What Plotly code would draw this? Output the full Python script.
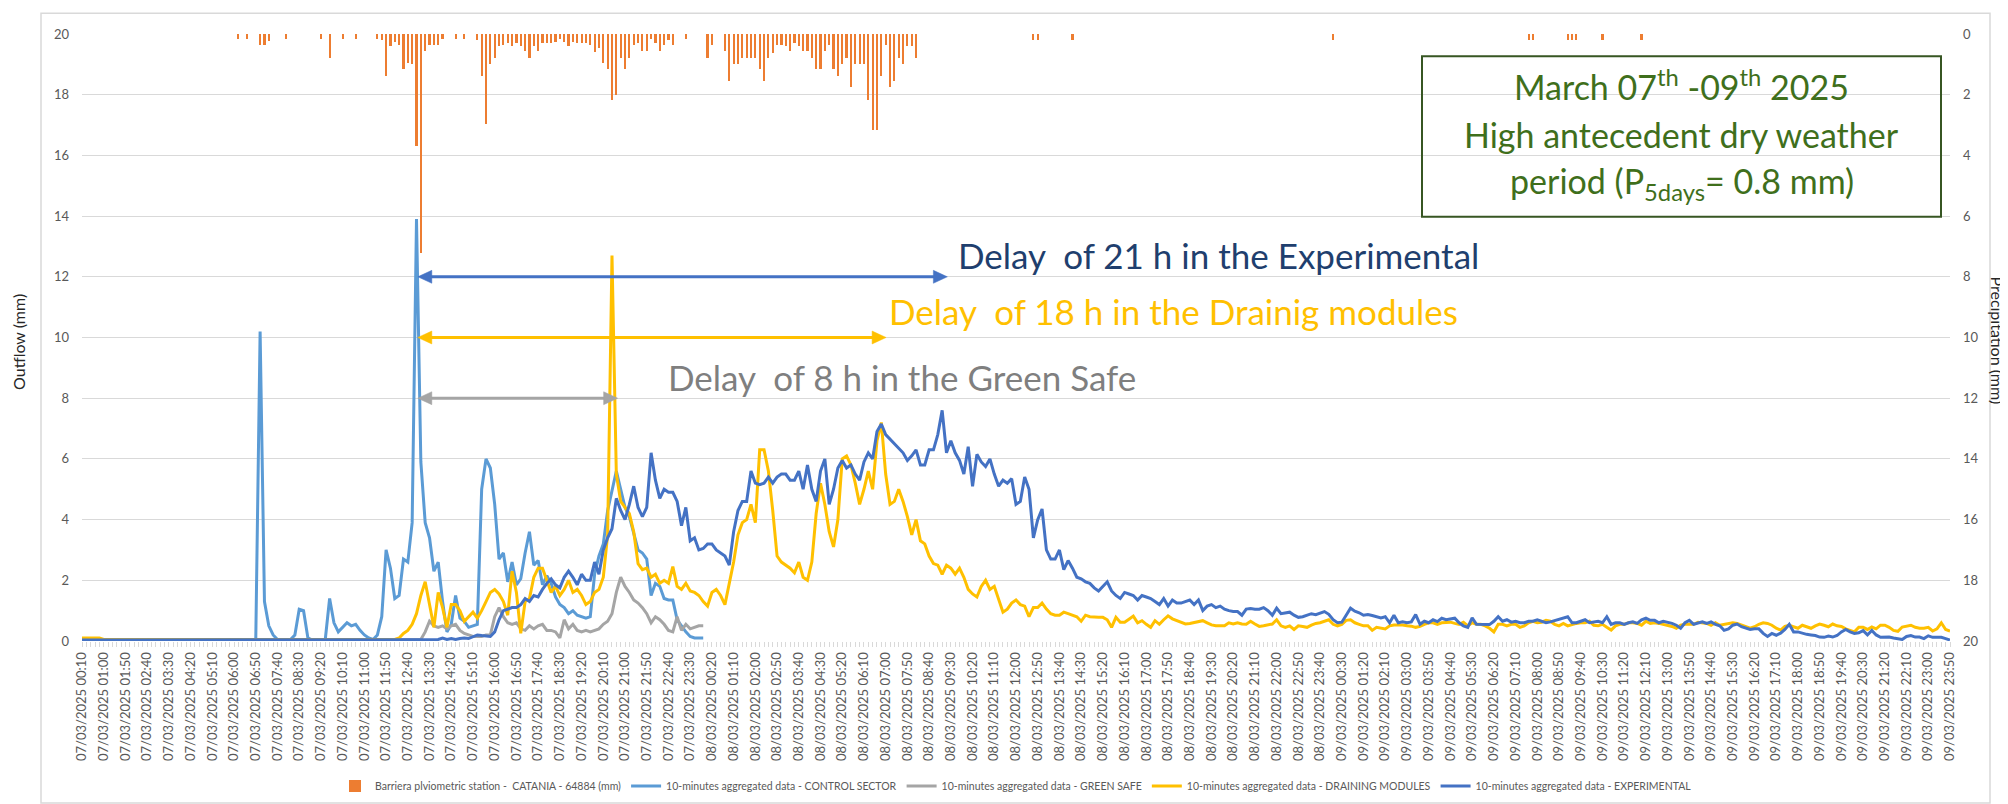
import plotly.graph_objects as go
import pandas as pd

# ---------------- categories (10-minute steps) ----------------
times = list(pd.date_range("2025-03-07 00:10", "2025-03-09 23:50", freq="10min").strftime("%d/%m/%Y %H:%M"))

# ---------------- precipitation (mm per 10 min) ----------------
rain_mm = [
    0, 0, 0, 0, 0, 0, 0, 0, 0, 0, 0, 0, 0, 0, 0, 0, 0, 0, 0, 0,
    0, 0, 0, 0, 0, 0, 0, 0, 0, 0, 0, 0, 0, 0, 0, 0, 0.18, 0, 0.18, 0,
    0, 0.37, 0.37, 0.24, 0, 0, 0, 0.18, 0, 0, 0, 0, 0, 0, 0, 0.18, 0, 0.78, 0, 0,
    0.18, 0, 0, 0.18, 0, 0, 0, 0, 0.15, 0.2, 1.37, 0.4, 0.25, 0.35, 1.15, 0.97, 1.0, 3.7, 7.2, 0.55,
    0.35, 0.35, 0.35, 0.15, 0, 0, 0.15, 0, 0.15, 0, 0, 0.2, 1.4, 2.95, 1.0, 0.78, 0.4, 0.35, 0.3, 0.4,
    0.3, 0.4, 0.55, 0.78, 0.4, 0.55, 0.3, 0.3, 0.3, 0.25, 0.18, 0.25, 0.4, 0.25, 0.3, 0.3, 0.3, 0.35, 0.6, 0.45,
    0.97, 1.15, 2.18, 2.0, 0.78, 1.15, 0.78, 0.35, 0.3, 0.55, 0.55, 0.18, 0.3, 0.55, 0.35, 0.2, 0.35, 0, 0, 0.18,
    0, 0, 0, 0, 0.78, 0.35, 0, 0, 0.55, 1.55, 1.0, 1.0, 0.78, 0.78, 0.78, 0.78, 1.15, 1.55, 0.78, 0.62,
    0.35, 0.35, 0.4, 0.55, 0.3, 0.4, 0.55, 0.55, 0.78, 1.15, 1.15, 0.55, 0.35, 1.15, 1.37, 1.0, 0.78, 1.75, 1.0, 1.0,
    1.0, 2.18, 3.15, 3.15, 1.37, 0.35, 1.75, 1.55, 0.78, 1.0, 0.4, 0.4, 0.78, 0, 0, 0, 0, 0, 0, 0,
    0, 0, 0, 0, 0, 0, 0, 0, 0, 0, 0, 0, 0, 0, 0, 0, 0, 0, 0, 0.2,
    0.2, 0, 0, 0, 0, 0, 0, 0, 0.2, 0, 0, 0, 0, 0, 0, 0, 0, 0, 0, 0,
    0, 0, 0, 0, 0, 0, 0, 0, 0, 0, 0, 0, 0, 0, 0, 0, 0, 0, 0, 0,
    0, 0, 0, 0, 0, 0, 0, 0, 0, 0, 0, 0, 0, 0, 0, 0, 0, 0, 0, 0,
    0, 0, 0, 0, 0, 0, 0, 0, 0.2, 0, 0, 0, 0, 0, 0, 0, 0, 0, 0, 0,
    0, 0, 0, 0, 0, 0, 0, 0, 0, 0, 0, 0, 0, 0, 0, 0, 0, 0, 0, 0,
    0, 0, 0, 0, 0, 0, 0, 0, 0, 0, 0, 0, 0, 0.2, 0.2, 0, 0, 0, 0, 0,
    0, 0, 0.2, 0.2, 0.2, 0, 0, 0, 0, 0, 0.2, 0, 0, 0, 0, 0, 0, 0, 0, 0.2,
    0, 0, 0, 0, 0, 0, 0, 0, 0, 0, 0, 0, 0, 0, 0, 0, 0, 0, 0, 0,
    0, 0, 0, 0, 0, 0, 0, 0, 0, 0, 0, 0, 0, 0, 0, 0, 0, 0, 0, 0,
    0, 0, 0, 0, 0, 0, 0, 0, 0, 0, 0, 0, 0, 0, 0, 0, 0, 0, 0, 0,
    0, 0, 0, 0, 0, 0, 0, 0, 0, 0, 0,
]

# ---------------- outflow (mm) ----------------
control_sector = [
    0.05, 0.05, 0.05, 0.05, 0.05, 0.05, 0.05, 0.05, 0.05, 0.05, 0.05, 0.05, 0.05, 0.05, 0.05, 0.05, 0.05, 0.05, 0.05, 0.05,
    0.05, 0.05, 0.05, 0.05, 0.05, 0.05, 0.05, 0.05, 0.05, 0.05, 0.05, 0.05, 0.05, 0.05, 0.05, 0.05, 0.05, 0.05, 0.05, 0.05,
    0.05, 10.2, 1.3, 0.5, 0.2, 0.05, 0.03, 0.03, 0.05, 0.2, 1.05, 1.0, 0.1, 0.03, 0.03, 0.03, 0.05, 1.4, 0.6, 0.3,
    0.45, 0.6, 0.5, 0.55, 0.35, 0.2, 0.1, 0.05, 0.2, 0.8, 3.0, 2.4, 1.4, 1.5, 2.7, 2.6, 3.9, 13.9, 5.9, 3.9,
    3.4, 2.3, 2.6, 1.3, 0.3, 0.55, 1.5, 0.75, 0.65, 0.45, 0.5, 0.55, 5.0, 6.0, 5.7, 4.5, 2.7, 2.9, 1.95, 2.6,
    1.85, 2.05, 2.9, 3.6, 2.5, 2.65, 1.85, 2.15, 1.9, 1.45, 1.2, 1.1, 0.9, 1.0, 0.85, 0.8, 0.75, 0.8, 2.2, 2.8,
    3.2, 4.3, 5.0, 5.6, 5.0, 4.4, 4.1, 3.5, 3.0, 2.9, 2.7, 1.5, 1.9, 1.8, 1.4, 1.35, 1.35, 0.7, 0.5, 0.3,
    0.15, 0.1, 0.1, 0.1,
]

green_safe = [
    0.05, 0.05, 0.05, 0.05, 0.05, 0.05, 0.05, 0.05, 0.05, 0.05, 0.05, 0.05, 0.05, 0.05, 0.05, 0.05, 0.05, 0.05, 0.05, 0.05,
    0.05, 0.05, 0.05, 0.05, 0.05, 0.05, 0.05, 0.05, 0.05, 0.05, 0.05, 0.05, 0.05, 0.05, 0.05, 0.05, 0.05, 0.05, 0.05, 0.05,
    0.05, 0.05, 0.05, 0.05, 0.05, 0.05, 0.05, 0.05, 0.05, 0.05, 0.05, 0.05, 0.05, 0.05, 0.05, 0.05, 0.05, 0.05, 0.05, 0.05,
    0.05, 0.05, 0.05, 0.05, 0.05, 0.05, 0.05, 0.05, 0.05, 0.05, 0.05, 0.05, 0.05, 0.05, 0.05, 0.05, 0.05, 0.05, 0.05, 0.3,
    0.65, 0.5, 0.45, 0.5, 0.4, 0.5, 0.55, 0.35, 0.25, 0.2, 0.15, 0.15, 0.15, 0.2, 0.2, 0.8, 1.1, 0.8, 0.6, 0.55,
    0.6, 0.4, 0.35, 0.5, 0.4, 0.5, 0.55, 0.35, 0.35, 0.3, 0.1, 0.7, 0.4, 0.55, 0.35, 0.3, 0.35, 0.3, 0.35, 0.4,
    0.55, 0.65, 0.9, 1.6, 2.1, 1.8, 1.6, 1.35, 1.25, 1.1, 0.9, 0.6, 0.8, 0.7, 0.55, 0.35, 0.3, 0.8, 0.35, 0.55,
    0.4, 0.45, 0.5, 0.5,
]

draining_modules = [
    0.1, 0.1, 0.1, 0.1, 0.1, 0.05, 0.05, 0.05, 0.05, 0.05, 0.05, 0.05, 0.05, 0.05, 0.05, 0.05, 0.05, 0.05, 0.05, 0.05,
    0.05, 0.05, 0.05, 0.05, 0.05, 0.05, 0.05, 0.05, 0.05, 0.05, 0.05, 0.05, 0.05, 0.05, 0.05, 0.05, 0.05, 0.05, 0.05, 0.05,
    0.05, 0.05, 0.05, 0.05, 0.05, 0.05, 0.05, 0.05, 0.05, 0.05, 0.05, 0.05, 0.05, 0.05, 0.05, 0.05, 0.05, 0.05, 0.05, 0.05,
    0.05, 0.05, 0.05, 0.05, 0.05, 0.05, 0.05, 0.05, 0.05, 0.05, 0.05, 0.05, 0.05, 0.1, 0.25, 0.35, 0.55, 0.9, 1.5, 1.95,
    1.2, 0.45, 1.6, 1.1, 0.45, 1.2, 1.2, 1.0, 0.65, 0.8, 0.95, 0.75, 1.0, 1.3, 1.6, 1.7, 1.55, 1.3, 0.85, 2.3,
    1.6, 0.25, 1.3, 1.4, 2.1, 2.4, 2.4, 2.0, 1.6, 1.8, 1.5, 1.7, 2.0, 1.6, 1.7, 1.5, 1.2, 1.3, 1.6, 1.7,
    2.1, 3.5, 12.7, 5.5, 4.6, 4.4, 4.2, 3.6, 2.55, 2.35, 2.4, 2.1, 2.2, 1.9, 2.0, 1.9, 2.45, 1.8, 1.7, 1.9,
    1.65, 1.6, 1.5, 1.3, 1.15, 1.6, 1.7, 1.5, 1.2, 1.9, 2.6, 3.5, 3.9, 4.0, 4.5, 3.9, 6.3, 6.3, 5.6, 4.3,
    2.8, 2.6, 2.5, 2.4, 2.25, 2.6, 2.1, 2.0, 2.6, 4.2, 5.2, 4.5, 3.6, 3.1, 4.0, 6.0, 6.1, 5.8, 5.2, 4.5,
    5.0, 5.6, 5.0, 6.6, 7.2, 5.5, 4.5, 4.6, 5.0, 4.6, 4.1, 3.5, 4.0, 3.3, 3.2, 2.8, 2.55, 2.5, 2.2, 2.5,
    2.4, 2.2, 2.4, 2.1, 1.7, 1.55, 1.45, 1.8, 2.0, 1.7, 1.8, 1.4, 0.95, 1.05, 1.25, 1.35, 1.2, 1.15, 0.8, 1.1,
    1.1, 1.25, 1.05, 0.9, 0.85, 0.85, 0.95, 0.9, 0.85, 0.8, 0.65, 0.85, 0.8, 0.78, 0.78, 0.78, 0.7, 0.45, 0.78, 0.62,
    0.62, 0.72, 0.82, 0.6, 0.67, 0.55, 0.45, 0.67, 0.55, 0.7, 0.83, 0.73, 0.67, 0.6, 0.56, 0.58, 0.61, 0.66, 0.67, 0.6,
    0.53, 0.5, 0.49, 0.5, 0.6, 0.56, 0.6, 0.56, 0.55, 0.65, 0.56, 0.48, 0.5, 0.53, 0.56, 0.7, 0.5, 0.45, 0.5, 0.38,
    0.5, 0.48, 0.45, 0.52, 0.58, 0.6, 0.66, 0.7, 0.55, 0.5, 0.55, 0.68, 0.7, 0.6, 0.55, 0.5, 0.5, 0.35, 0.45, 0.42,
    0.4, 0.5, 0.53, 0.53, 0.53, 0.5, 0.49, 0.45, 0.48, 0.55, 0.6, 0.6, 0.55, 0.6, 0.62, 0.62, 0.58, 0.55, 0.62, 0.5,
    0.6, 0.55, 0.55, 0.5, 0.42, 0.3, 0.55, 0.55, 0.5, 0.55, 0.55, 0.45, 0.5, 0.6, 0.65, 0.6, 0.62, 0.68, 0.65, 0.55,
    0.5, 0.58, 0.5, 0.55, 0.58, 0.6, 0.6, 0.65, 0.52, 0.5, 0.55, 0.45, 0.36, 0.5, 0.55, 0.55, 0.6, 0.6, 0.58, 0.52,
    0.65, 0.58, 0.6, 0.58, 0.55, 0.52, 0.48, 0.42, 0.52, 0.55, 0.56, 0.55, 0.62, 0.6, 0.58, 0.52, 0.6, 0.52, 0.55, 0.57,
    0.6, 0.58, 0.52, 0.46, 0.42, 0.47, 0.55, 0.6, 0.58, 0.52, 0.42, 0.36, 0.48, 0.52, 0.46, 0.42, 0.52, 0.46, 0.42, 0.5,
    0.56, 0.52, 0.47, 0.56, 0.5, 0.48, 0.4, 0.35, 0.3, 0.45, 0.45, 0.38, 0.46, 0.4, 0.52, 0.52, 0.45, 0.35, 0.32, 0.46,
    0.48, 0.52, 0.45, 0.42, 0.42, 0.45, 0.33, 0.4, 0.6, 0.38, 0.33,
]

experimental = [
    0.03, 0.03, 0.03, 0.03, 0.03, 0.03, 0.03, 0.03, 0.03, 0.03, 0.03, 0.03, 0.03, 0.03, 0.03, 0.03, 0.03, 0.03, 0.03, 0.03,
    0.03, 0.03, 0.03, 0.03, 0.03, 0.03, 0.03, 0.03, 0.03, 0.03, 0.03, 0.03, 0.03, 0.03, 0.03, 0.03, 0.03, 0.03, 0.03, 0.03,
    0.03, 0.03, 0.03, 0.03, 0.03, 0.03, 0.03, 0.03, 0.03, 0.03, 0.03, 0.03, 0.03, 0.03, 0.03, 0.03, 0.03, 0.03, 0.03, 0.03,
    0.03, 0.03, 0.03, 0.03, 0.03, 0.03, 0.03, 0.03, 0.03, 0.03, 0.03, 0.03, 0.03, 0.03, 0.03, 0.03, 0.03, 0.03, 0.05, 0.05,
    0.05, 0.05, 0.05, 0.1, 0.05, 0.08, 0.05, 0.08, 0.1, 0.08, 0.15, 0.2, 0.18, 0.17, 0.15, 0.3, 0.7, 1.0, 1.05, 1.1,
    1.1, 1.2, 1.4, 1.3, 1.5, 1.45, 1.7, 1.9, 2.05, 1.85, 1.75, 2.1, 2.3, 2.1, 1.85, 2.2, 2.0, 2.0, 2.6, 2.2,
    3.0, 3.4, 3.7, 4.7, 4.3, 4.0, 4.5, 5.1, 4.4, 4.1, 4.4, 6.2, 5.3, 4.7, 5.0, 4.9, 4.9, 4.6, 3.8, 4.4,
    3.3, 3.4, 3.0, 3.05, 3.2, 3.2, 3.0, 2.9, 2.8, 2.5, 3.6, 4.3, 4.6, 4.6, 5.6, 5.2, 5.15, 5.2, 5.4, 5.2,
    5.4, 5.5, 5.5, 5.3, 5.3, 5.6, 5.0, 5.8, 5.0, 4.6, 5.6, 6.0, 4.5, 5.0, 5.7, 5.95, 5.7, 5.8, 5.5, 5.3,
    5.9, 6.2, 6.0, 6.9, 7.15, 6.8, 6.65, 6.5, 6.35, 6.2, 5.95, 6.1, 6.3, 5.8, 5.8, 6.3, 6.3, 6.8, 7.6, 6.2,
    6.6, 6.2, 5.95, 5.5, 6.4, 5.1, 6.15, 5.9, 5.75, 6.0, 5.5, 5.1, 5.3, 5.2, 5.35, 4.5, 4.6, 5.4, 5.0, 3.4,
    4.0, 4.35, 3.0, 2.7, 2.7, 3.0, 2.35, 2.65, 2.4, 2.1, 2.05, 1.95, 1.9, 1.75, 1.65, 1.8, 1.95, 1.65, 1.5, 1.4,
    1.6, 1.55, 1.5, 1.35, 1.5, 1.45, 1.4, 1.3, 1.2, 1.4, 1.15, 1.35, 1.25, 1.25, 1.3, 1.35, 1.2, 1.35, 1.0, 1.15,
    1.2, 1.1, 1.15, 1.05, 1.0, 0.97, 0.97, 0.85, 1.05, 1.07, 1.05, 1.05, 1.1, 1.0, 0.85, 1.08, 0.9, 0.92, 0.95, 0.85,
    0.78, 0.8, 0.86, 0.9, 0.87, 0.92, 0.97, 0.88, 0.7, 0.6, 0.62, 0.85, 1.08, 0.98, 0.93, 0.85, 0.87, 0.84, 0.8, 0.76,
    0.8, 0.6, 0.85, 0.6, 0.63, 0.6, 0.63, 0.87, 0.55, 0.65, 0.6, 0.7, 0.64, 0.75, 0.7, 0.72, 0.75, 0.6, 0.5, 0.45,
    0.76, 0.55, 0.54, 0.54, 0.54, 0.65, 0.8, 0.65, 0.7, 0.62, 0.65, 0.6, 0.6, 0.65, 0.65, 0.7, 0.65, 0.6, 0.63, 0.67,
    0.7, 0.75, 0.8, 0.6, 0.6, 0.65, 0.7, 0.6, 0.62, 0.65, 0.6, 0.8, 0.55, 0.6, 0.6, 0.55, 0.6, 0.63, 0.58, 0.7,
    0.75, 0.68, 0.68, 0.6, 0.65, 0.62, 0.58, 0.52, 0.42, 0.6, 0.68, 0.55, 0.58, 0.63, 0.58, 0.63, 0.55, 0.5, 0.35, 0.4,
    0.52, 0.56, 0.47, 0.42, 0.38, 0.4, 0.4, 0.25, 0.15, 0.25, 0.19, 0.26, 0.38, 0.55, 0.3, 0.3, 0.25, 0.22, 0.2, 0.18,
    0.13, 0.12, 0.16, 0.13, 0.18, 0.3, 0.38, 0.3, 0.25, 0.27, 0.34, 0.2, 0.35, 0.2, 0.12, 0.13, 0.13, 0.1, 0.08, 0.05,
    0.15, 0.18, 0.13, 0.13, 0.08, 0.17, 0.12, 0.13, 0.12, 0.08, 0.03,
]

series_names = [
    "Barriera plviometric station -  CATANIA - 64884 (mm)",
    "10-minutes aggregated data - CONTROL SECTOR",
    "10-minutes aggregated data - GREEN SAFE",
    "10-minutes aggregated data - DRAINING MODULES",
    "10-minutes aggregated data - EXPERIMENTAL",
]
outflow_ticks = [0, 2, 4, 6, 8, 10, 12, 14, 16, 18, 20]
tick_labels = [t if i % 5 == 0 else "" for i, t in enumerate(times)]
info_lines = [
    "March 07<sup>th</sup> -09<sup>th</sup> 2025",
    "High antecedent dry weather",
    "period (P<sub>5days</sub>= 0.8 mm)",
]

delay_start = "07/03/2025 13:00"

FONT = "Lato, 'Open Sans', sans-serif"
C_RAIN = "#ED7D31"
C_CTRL = "#5B9BD5"
C_GS = "#A5A5A5"
C_DM = "#FFC000"
C_EXP = "#4472C4"
GRID = "#D9D9D9"

# page geometry (pixels)
W, H = 2008, 804
L, R, T, B = 74, 66, 26, 167
PW, PH = W - L - R, H - T - B


def px_x(p):
    return (p - L) / PW


def px_y(p):
    return (H - B - p) / PH


fig = go.Figure()
fig.add_trace(go.Bar(
    x=times[:len(rain_mm)], y=rain_mm, name=series_names[0], marker_color=C_RAIN,
    marker_line_width=0, width=0.5, yaxis="y", xaxis="x",
))
fig.add_trace(go.Scatter(x=times[:len(control_sector)], y=control_sector, name=series_names[1],
                         mode="lines", line=dict(color=C_CTRL, width=3), yaxis="y2"))
fig.add_trace(go.Scatter(x=times[:len(green_safe)], y=green_safe, name=series_names[2],
                         mode="lines", line=dict(color=C_GS, width=3), yaxis="y2"))
fig.add_trace(go.Scatter(x=times[:len(draining_modules)], y=draining_modules, name=series_names[3],
                         mode="lines", line=dict(color=C_DM, width=3), yaxis="y2"))
fig.add_trace(go.Scatter(x=times[:len(experimental)], y=experimental, name=series_names[4],
                         mode="lines", line=dict(color=C_EXP, width=3), yaxis="y2"))

n = len(times)
fig.update_layout(
    width=W, height=H,
    margin=dict(l=L, r=R, t=T, b=B),
    paper_bgcolor="white", plot_bgcolor="white",
    font=dict(family=FONT, color="#595959", size=13),
    bargap=0,
    legend=dict(orientation="h", x=0.5, xanchor="center", y=px_y(783), yanchor="middle",
                font=dict(size=10.5, color="#595959"), itemwidth=30, traceorder="normal"),
    xaxis=dict(type="category", range=[0, n - 1], tickmode="array", tickvals=times, ticktext=tick_labels,
               tickangle=-90, ticks="outside", ticklen=5, tickcolor=GRID, tickwidth=1,
               showgrid=False, zeroline=False, showline=False, tickfont=dict(size=13, color="#595959")),
    yaxis=dict(side="right", range=[20, 0], tickvals=outflow_ticks, showgrid=False, zeroline=False,
               showline=False, ticks="", ticklabelstandoff=12, tickfont=dict(size=13, color="#595959")),
    yaxis2=dict(side="left", overlaying="y", range=[0, 20], tickvals=outflow_ticks, showgrid=True,
                gridcolor=GRID, gridwidth=1, zeroline=False, showline=False, ticks="",
                ticklabelstandoff=12, tickfont=dict(size=13, color="#595959")),
)

# double-headed delay arrows (drawn as a shaft plus two filled heads)
i0 = times.index(delay_start) + 0.3
arrows = [
    (times.index("08/03/2025 09:20") + 0.2, 12, C_EXP),
    (times.index("08/03/2025 07:00") + 0.1, 10, C_DM),
    (times.index("07/03/2025 20:40") + 0.3, 8, C_GS),
]
head_len = 14 / (PW / (n - 1))     # in category units
head_half = 6.5 / (PH / 20.0)      # in outflow units
for xe, lvl, col in arrows:
    fig.add_shape(type="line", xref="x", yref="y2", x0=i0 + head_len * 0.8, x1=xe - head_len * 0.8,
                  y0=lvl, y1=lvl, line=dict(color=col, width=3))
    for tip, back in [(i0, i0 + head_len), (xe, xe - head_len)]:
        fig.add_shape(type="path", xref="x", yref="y2",
                      path=f"M {tip},{lvl} L {back},{lvl + head_half} L {back},{lvl - head_half} Z",
                      fillcolor=col, line=dict(color=col, width=0.5))

labels = [
    (times.index("08/03/2025 09:40") + 0.2, 11.95, "#1F3F6E", "Delay\u00a0\u00a0of 21 h in the Experimental"),
    (times.index("08/03/2025 07:00") + 0.3, 10.12, C_DM, "Delay\u00a0\u00a0of 18 h in the Drainig modules"),
    (times.index("07/03/2025 22:30") + 0.5, 7.95, "#7F7F7F", "Delay\u00a0\u00a0of 8 h in the Green Safe"),
]
for xl, yl, col, txt in labels:
    fig.add_annotation(x=xl, y=yl, xref="x", yref="y2", xanchor="left", yanchor="bottom",
                       showarrow=False, text=txt, font=dict(family=FONT, size=35, color=col))

# information box: frame + three centred lines
fig.add_shape(type="rect", xref="paper", yref="paper",
              x0=px_x(1414), x1=px_x(1933), y0=px_y(210), y1=px_y(48.5),
              line=dict(color="#375623", width=2), fillcolor="rgba(0,0,0,0)")
for txt, cy in zip(info_lines, [77, 127, 176]):
    fig.add_annotation(x=px_x(1673.5), y=px_y(cy), xref="paper", yref="paper", xanchor="center",
                       yanchor="middle", showarrow=False, text=txt,
                       font=dict(family=FONT, size=34, color="#3F6F1C"))

# axis titles
fig.add_annotation(x=px_x(11), y=px_y(336), xref="paper", yref="paper", xanchor="center", yanchor="middle",
                   text="Outflow (mm)", textangle=-90, showarrow=False,
                   font=dict(family=FONT, size=16, color="#262626"))
fig.add_annotation(x=px_x(2001), y=px_y(335), xref="paper", yref="paper", xanchor="right", yanchor="middle",
                   text="Precipitation (mm)", textangle=90, showarrow=False,
                   font=dict(family=FONT, size=16, color="#262626"))

# chart-area border
fig.add_shape(type="rect", xref="paper", yref="paper", x0=px_x(33), x1=px_x(1982), y0=px_y(800), y1=px_y(5),
              line=dict(color=GRID, width=1.5), fillcolor="rgba(0,0,0,0)", layer="below")

fig.write_html("out.html")
